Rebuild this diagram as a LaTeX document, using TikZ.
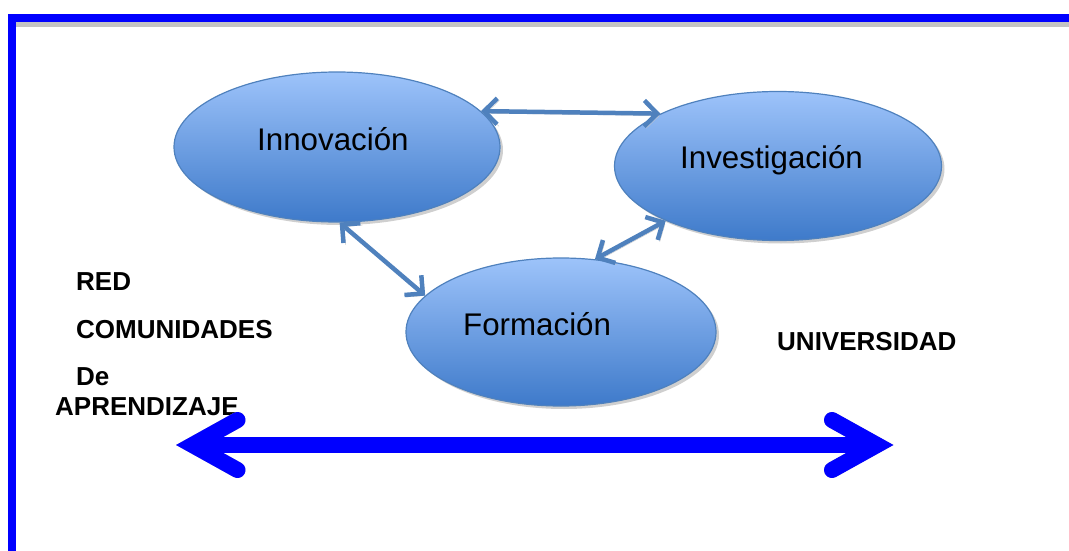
\documentclass[tikz,border=0pt]{standalone}
\usepackage{fontspec}
\setmainfont{Liberation Sans}
\usetikzlibrary{shapes.geometric,arrows.meta,shadows,calc}
\definecolor{ellTop}{RGB}{157,195,250}
\definecolor{ellBot}{RGB}{62,122,202}
\definecolor{ellLine}{RGB}{79,129,189}
\definecolor{arrBlue}{RGB}{79,129,189}
\definecolor{pureBlue}{RGB}{0,0,255}
\definecolor{shadowgray}{RGB}{195,195,195}
\begin{document}
\begin{tikzpicture}[x=1pt,y=-1pt,
  ell/.style={ellipse, draw=ellLine, line width=1.2pt, top color=ellTop, bottom color=ellBot, inner sep=0pt,
    drop shadow={shadow xshift=3pt, shadow yshift=-3pt, fill=shadowgray, opacity=0.8}},
  elltext/.style={anchor=base west, inner sep=0pt, font=\fontsize{31.3}{36}\selectfont},
  sidetext/.style={anchor=base west, inner sep=0pt, font=\fontsize{26}{30}\selectfont\bfseries},
  conn/.style={draw=arrBlue, line width=4.5pt,
    {Straight Barb[length=13pt,width=26pt]}-{Straight Barb[length=13pt,width=26pt]},
    preaction={draw=shadowgray, transform canvas={xshift=2pt,yshift=-2pt}}},
  bigline/.style={draw=pureBlue, line width=16pt, line cap=round, line join=miter},
  bigshadow/.style={draw=shadowgray, line width=16pt, line cap=round, line join=miter}
]
\useasboundingbox (0,0) rectangle (1069,551);
% frame
\coordinate (F1) at (12,560);
\coordinate (F2) at (12,18);
\coordinate (F3) at (1075,18);
\coordinate (S1) at (16,24.5);
\coordinate (S2) at (1075,24.5);
\draw[draw=shadowgray, line width=4.5pt] (S1) -- (S2);
\draw[draw=pureBlue, line width=8pt, line join=miter] (F1) -- (F2) -- (F3);

% ellipses
\node[ell, minimum width=326pt, minimum height=150pt] (inn) at (337,147) {};
\node[ell, minimum width=327pt, minimum height=149pt] (inv) at (778,166) {};
\node[ell, minimum width=310pt, minimum height=148pt] (for) at (561,332) {};
\node[elltext] (tinn) at (257,150) {Innovación};
\node[elltext] (tinv) at (680,168) {Investigación};
\node[elltext] (tfor) at (463,335) {Formación};

% small connectors
\draw[conn] (inn.14) -- (inv.156);
\draw[conn] (inn.-88) -- (for.165);
\draw[conn] (inv.206) -- (for.65);

% side labels
\node[sidetext] (red) at (76,290) {RED};
\node[sidetext] (com) at (76,338) {COMUNIDADES};
\node[sidetext] (de) at (76,385) {De};
\node[sidetext] (apr) at (55,415) {APRENDIZAJE};
\node[sidetext] (uni) at (777,350) {UNIVERSIDAD};

% big double arrow
\coordinate (L) at (192.5,445);
\coordinate (R) at (877,445);
\begin{scope}[shift={(3,3)}]
\draw[bigshadow, line cap=butt] (L) -- (R);
\draw[bigshadow] ($(L)+(45,-25)$) -- (L) -- ($(L)+(45,25)$);
\draw[bigshadow] ($(R)+(-45,-25)$) -- (R) -- ($(R)+(-45,25)$);
\end{scope}
\draw[bigline, line cap=butt] (L) -- (R);
\draw[bigline] ($(L)+(45,-25)$) -- (L) -- ($(L)+(45,25)$);
\draw[bigline] ($(R)+(-45,-25)$) -- (R) -- ($(R)+(-45,25)$);
\end{tikzpicture}
\end{document}
